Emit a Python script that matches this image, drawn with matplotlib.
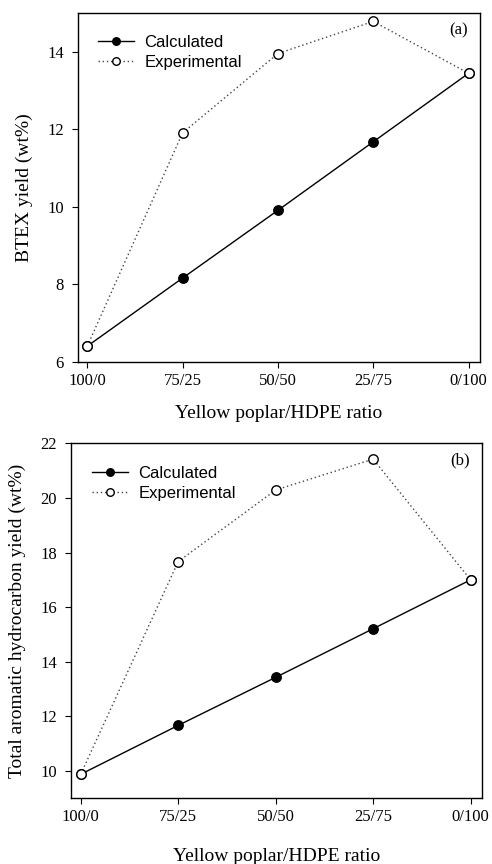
import matplotlib
matplotlib.use("Agg")
import matplotlib.pyplot as plt

ratios = ["100/0", "75/25", "50/50", "25/75", "0/100"]
btex_calc = [6.40, 8.16, 9.91, 11.68, 13.45]
btex_exp = [6.40, 11.91, 13.96, 14.79, 13.45]
tah_calc = [9.88, 11.67, 13.43, 15.21, 17.00]
tah_exp = [9.88, 17.67, 20.29, 21.42, 17.00]

serif = ["Liberation Serif", "DejaVu Serif"]
sans = ["Liberation Sans", "DejaVu Sans"]

fig = plt.figure(figsize=(4.92, 8.64), dpi=100)
W, H = 492, 864

def make_ax(l, r, t, b):
    return fig.add_axes([l / W, 1 - b / H, (r - l) / W, (b - t) / H])

ax1 = make_ax(77.7, 480, 13.3, 361.7)
ax2 = make_ax(71, 482.3, 443.3, 798.3)

panels = [
    (ax1, btex_calc, btex_exp, (6, 15), [6, 8, 10, 12, 14], "BTEX yield (wt%)", "(a)"),
    (ax2, tah_calc, tah_exp, (9, 22), [10, 12, 14, 16, 18, 20, 22],
     "Total aromatic hydrocarbon yield (wt%)", "(b)"),
]

x = list(range(len(ratios)))
for ax, calc, exp, ylim, yticks, ylabel, tag in panels:
    ax.plot(x, calc, '-', color='black', lw=1.0, marker='o', ms=6.8,
            mfc='black', mec='black', label='Calculated', zorder=3)
    ax.plot(x, exp, linestyle=(0, (1, 2)), color='#444444', lw=1.0, marker='o', ms=6.8,
            mfc='white', mec='black', mew=1.0, label='Experimental', zorder=4)
    ax.set_xlim(-0.1, 4.12)
    ax.set_ylim(*ylim)
    ax.set_xticks(x)
    ax.set_xticklabels(ratios, fontfamily=serif, fontsize=12)
    ax.set_yticks(yticks)
    ax.set_yticklabels([str(v) for v in yticks], fontfamily=serif, fontsize=12)
    ax.tick_params(direction='out', length=4, width=0.8)
    ax.tick_params(axis='y', pad=6)
    ax.tick_params(axis='x', pad=4)
    for s in ax.spines.values():
        s.set_linewidth(1.0)
    ax.set_xlabel("Yellow poplar/HDPE ratio", fontfamily=serif, fontsize=14)
    ax.set_ylabel(ylabel, fontfamily=serif, fontsize=14)
    ax.text(0.97, 0.952, tag, transform=ax.transAxes, ha='right', va='center',
            fontfamily=serif, fontsize=12)
    leg = ax.legend(loc='upper left', frameon=False, prop={'family': sans, 'size': 12},
                    handlelength=2.2, handletextpad=0.6, labelspacing=0.3,
                    borderaxespad=0, borderpad=0, markerscale=0.8,
                    bbox_to_anchor=(0.05, 0.937))

ax1.yaxis.set_label_coords(-0.11, 0.5)
ax1.xaxis.set_label_coords(0.5, -0.125)
ax2.yaxis.set_label_coords(-0.11, 0.5)
ax2.xaxis.set_label_coords(0.5, -0.14)

fig.savefig("out.png", dpi=100)
